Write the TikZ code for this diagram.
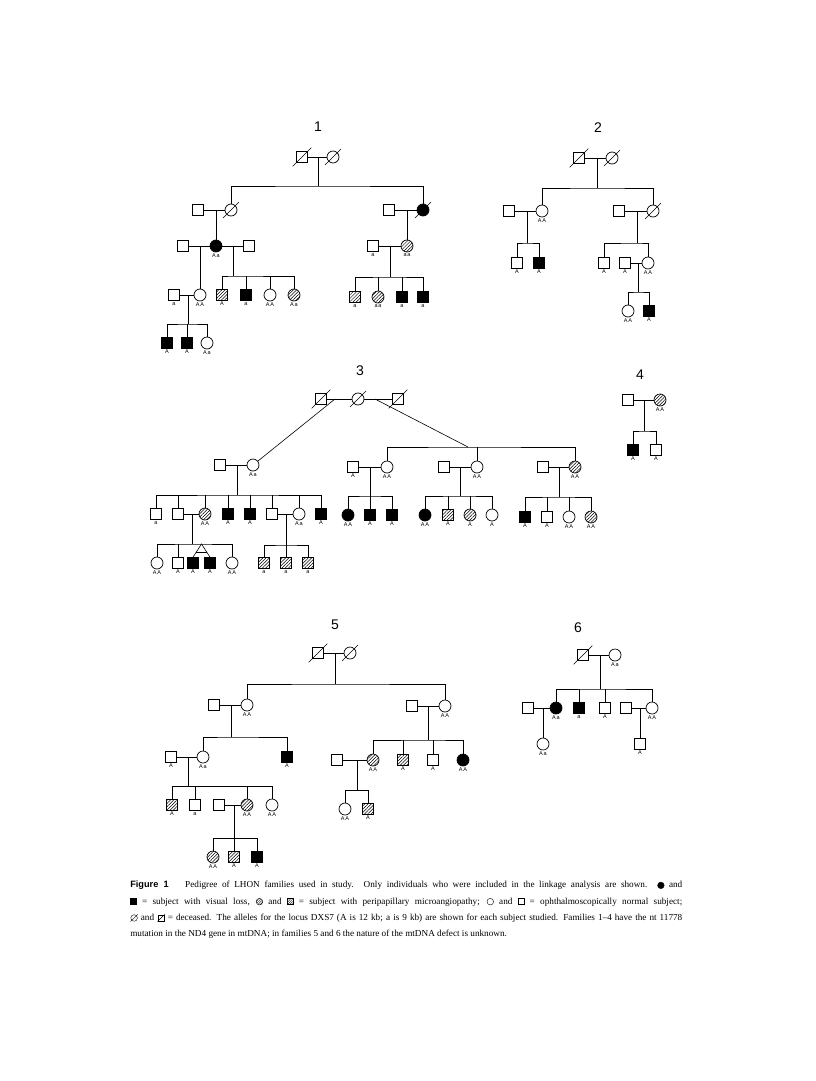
\documentclass[tikz,border=0pt]{standalone}
\usepackage{fontspec}
\setmainfont{Liberation Serif}
\setsansfont{Liberation Sans}
\newfontfamily\lblfont[LetterSpace=15]{Liberation Sans}
\usepackage{tikz}
\usetikzlibrary{patterns.meta,calc}

\tikzset{
  male/.style={draw, rectangle, minimum size=11pt, inner sep=0pt, line width=0.7pt, label distance=1.5pt},
  female/.style={draw, circle, minimum size=12pt, inner sep=0pt, line width=0.7pt, label distance=1.5pt},
  aff/.style={fill=black},
  hatch/.style={pattern={Lines[angle=45,distance=2.3pt,line width=0.5pt]}},
  lbl/.style={font=\lblfont\fontsize{5.5}{6}\selectfont, inner sep=1pt},
  famno/.style={font=\sffamily\fontsize{14}{14}\selectfont},
}
\newcommand{\dead}[1]{\draw[line width=0.6pt] ([shift={(-3.5pt,-3.5pt)}]#1.south west) -- ([shift={(3.5pt,3.5pt)}]#1.north east);}

% symbols for the caption
\newsavebox\boxfc \sbox\boxfc{\tikz[baseline=-2.6pt]\draw[fill=black] (0,0) circle (3.3pt);}
\newsavebox\boxfs \sbox\boxfs{\tikz[baseline=-2.6pt]\draw[fill=black] (-3pt,-3pt) rectangle (3pt,3pt);}
\newsavebox\boxhc \sbox\boxhc{\tikz[baseline=-2.6pt]\draw[pattern={Lines[angle=45,distance=1.6pt,line width=0.4pt]}] (0,0) circle (3.3pt);}
\newsavebox\boxhs \sbox\boxhs{\tikz[baseline=-2.6pt]\draw[pattern={Lines[angle=45,distance=1.6pt,line width=0.4pt]}] (-3pt,-3pt) rectangle (3pt,3pt);}
\newsavebox\boxoc \sbox\boxoc{\tikz[baseline=-2.6pt]\draw (0,0) circle (3.3pt);}
\newsavebox\boxos \sbox\boxos{\tikz[baseline=-2.6pt]\draw (-3pt,-3pt) rectangle (3pt,3pt);}
\newsavebox\boxdc \sbox\boxdc{\tikz[baseline=-2.6pt]{\draw (0,0) circle (3.3pt); \draw (-3.6pt,-3.6pt) -- (3.6pt,3.6pt);}}
\newsavebox\boxds \sbox\boxds{\tikz[baseline=-2.6pt]{\draw (-3pt,-3pt) rectangle (3pt,3pt); \draw (-3.6pt,-3.6pt) -- (3.6pt,3.6pt);}}

\begin{document}
\begin{tikzpicture}[x=1pt, y=-1pt, line width=0.6pt]
\useasboundingbox[fill=white] (0,0) rectangle (816,1081);

% Family 1
\node[famno] (t1) at (318,127) {1};
\node[male] (f1gf) at (302,157) {}; \dead{f1gf}
\node[female] (f1gm) at (333,157) {}; \dead{f1gm}
\draw (f1gf) -- (f1gm);
\coordinate (f1m) at (318,157);
\coordinate (f1s) at (318,186);
\draw (f1m) -- (f1s);
\node[female] (f1a) at (231,210) {}; \dead{f1a}
\node[female, aff] (f1b) at (423,210) {}; \dead{f1b}
\draw (f1a) |- (f1s) -| (f1b);
\node[male] (f1ah) at (198,210) {};
\node[male] (f1bh) at (389,210) {};
\draw (f1ah) -- (f1a);
\draw (f1bh) -- (f1b);
\node[female, aff, label={[lbl]below:Aa}] (f1c) at (216,246) {};
\node[female, hatch, label={[lbl]below:aa}] (f1d) at (407,246) {};
\coordinate (f1am) at (216,210); \draw (f1am) -- (f1c);
\coordinate (f1bm) at (407,210); \draw (f1bm) -- (f1d);
\node[male] (f1ch1) at (183,246) {};
\node[male] (f1ch2) at (249,246) {};
\draw (f1ch1) -- (f1c) -- (f1ch2);
\node[female, label={[lbl]below:AA}] (f1e) at (200,295) {};
\coordinate (f1cm1) at (200,246); \draw (f1cm1) -- (f1e);
\coordinate (f1cm2) at (233,246); \coordinate (f1cs2) at (233,276);
\draw (f1cm2) -- (f1cs2);
\node[male, hatch, label={[lbl]below:A}] (f1f) at (222,295) {};
\node[male, aff, label={[lbl]below:a}] (f1g) at (246,295) {};
\node[female, label={[lbl]below:AA}] (f1h) at (270,295) {};
\node[female, hatch, label={[lbl]below:Aa}] (f1i) at (294,295) {};
\draw (f1f) |- (f1cs2) -| (f1i);
\draw (f1g) -- (f1g |- f1cs2);
\draw (f1h) -- (f1h |- f1cs2);
\node[male, label={[lbl]below:a}] (f1eh) at (174,295) {};
\draw (f1eh) -- (f1e);
\coordinate (f1em) at (188,295); \coordinate (f1es) at (188,324);
\draw (f1em) -- (f1es);
\node[male, aff, label={[lbl]below:A}] (f1j) at (167,343) {};
\node[male, aff, label={[lbl]below:A}] (f1k) at (187,343) {};
\node[female, label={[lbl]below:Aa}] (f1l) at (207,343) {};
\draw (f1j) |- (f1es) -| (f1l);
\draw (f1k) -- (f1k |- f1es);
\node[male, label={[lbl]below:a}] (f1dh) at (373,246) {};
\draw (f1dh) -- (f1d);
\coordinate (f1dm) at (390,246); \coordinate (f1ds) at (390,277);
\draw (f1dm) -- (f1ds);
\node[male, hatch, label={[lbl]below:a}] (f1n1) at (355,297) {};
\node[female, hatch, label={[lbl]below:aa}] (f1n2) at (378,297) {};
\node[male, aff, label={[lbl]below:a}] (f1n3) at (402,297) {};
\node[male, aff, label={[lbl]below:a}] (f1n4) at (423,297) {};
\draw (f1n1) |- (f1ds) -| (f1n4);
\draw (f1n2) -- (f1n2 |- f1ds);
\draw (f1n3) -- (f1n3 |- f1ds);

% Family 2
\node[famno] (t2) at (598,128) {2};
\node[male] (f2gf) at (579,158) {}; \dead{f2gf}
\node[female] (f2gm) at (612,158) {}; \dead{f2gm}
\draw (f2gf) -- (f2gm);
\coordinate (f2m) at (597,158); \coordinate (f2s) at (597,188);
\draw (f2m) -- (f2s);
\node[female, label={[lbl]below:AA}] (f2a) at (542,211) {};
\node[female] (f2b) at (653,211) {}; \dead{f2b}
\draw (f2a) |- (f2s) -| (f2b);
\node[male] (f2ah) at (509,211) {};
\node[male] (f2bh) at (619,211) {};
\draw (f2ah) -- (f2a);
\draw (f2bh) -- (f2b);
\coordinate (f2am) at (527,211); \coordinate (f2as) at (527,243);
\draw (f2am) -- (f2as);
\node[male, label={[lbl]below:A}] (f2c1) at (517,263) {};
\node[male, aff, label={[lbl]below:A}] (f2c2) at (539,263) {};
\draw (f2c1) |- (f2as) -| (f2c2);
\coordinate (f2bm) at (637,211); \coordinate (f2bs) at (637,243);
\draw (f2bm) -- (f2bs);
\node[male, label={[lbl]below:A}] (f2d1) at (604,263) {};
\node[female, label={[lbl]below:AA}] (f2d2) at (648,263) {};
\draw (f2d1) |- (f2bs) -| (f2d2);
\node[male, label={[lbl]below:A}] (f2dh) at (625,263) {};
\draw (f2dh) -- (f2d2);
\coordinate (f2dm) at (638,263); \coordinate (f2ds) at (638,292);
\draw (f2dm) -- (f2ds);
\node[female, label={[lbl]below:AA}] (f2e1) at (628,311) {};
\node[male, aff, label={[lbl]below:A}] (f2e2) at (649,311) {};
\draw (f2e1) |- (f2ds) -| (f2e2);

% Family 3
\node[famno] (t3) at (360,371) {3};
\node[male] (f3a) at (321,399) {}; \dead{f3a}
\node[female] (f3b) at (358,399) {}; \dead{f3b}
\node[male] (f3c) at (398,399) {}; \dead{f3c}
\draw (f3a) -- (f3b) -- (f3c);
\coordinate (f3l) at (335,399); \coordinate (f3r) at (375,399);
\node[female, label={[lbl]below:Aa}] (f3d) at (253,465) {};
\node[male] (f3dh) at (220,465) {};
\draw (f3l) -- (f3d);
\draw (f3dh) -- (f3d);
\coordinate (f3dm) at (237,465); \coordinate (f3ds) at (237,495);
\draw (f3dm) -- (f3ds);
\node[male, label={[lbl]below:a}] (f3c1) at (156,514) {};
\node[male] (f3c2) at (178,514) {};
\node[female, hatch, label={[lbl]below:AA}] (f3c3) at (205,514) {};
\node[male, aff, label={[lbl]below:A}] (f3c4) at (228,514) {};
\node[male, aff, label={[lbl]below:A}] (f3c5) at (250,514) {};
\node[male] (f3c6) at (272,514) {};
\node[female, label={[lbl]below:Aa}] (f3c7) at (299,514) {};
\node[male, aff, label={[lbl]below:A}] (f3c8) at (321,514) {};
\draw (f3c1) |- (f3ds) -| (f3c8);
\foreach \k in {2,3,4,5,6,7} \draw (f3c\k) -- (f3c\k |- f3ds);
\draw (f3c2) -- (f3c3);
\draw (f3c6) -- (f3c7);
\coordinate (f3gm) at (192,514); \coordinate (f3gs) at (192,544);
\draw (f3gm) -- (f3gs);
\node[female, label={[lbl]below:AA}] (f3g1) at (157,563) {};
\node[male, label={[lbl]below:A}] (f3g2) at (178,563) {};
\node[male, aff, label={[lbl]below:A}] (f3g3) at (193,563) {};
\node[male, aff, label={[lbl]below:A}] (f3g4) at (210,563) {};
\node[female, label={[lbl]below:AA}] (f3g5) at (232,563) {};
\draw (f3g1) |- (f3gs) -| (f3g5);
\draw (f3g2) -- (f3g2 |- f3gs);
\coordinate (f3tw) at (201.5,544);
\draw (f3g3.north) -- (f3tw) -- (f3g4.north);
\draw ($(f3tw)!0.6!(f3g3.north)$) -- ($(f3tw)!0.6!(f3g4.north)$);
\coordinate (f3hm) at (286,514); \coordinate (f3hs) at (286,545);
\draw (f3hm) -- (f3hs);
\node[male, hatch, label={[lbl]below:a}] (f3h1) at (264,563) {};
\node[male, hatch, label={[lbl]below:a}] (f3h2) at (286,563) {};
\node[male, hatch, label={[lbl]below:a}] (f3h3) at (308,563) {};
\draw (f3h1) |- (f3hs) -| (f3h3);
\draw (f3h2) -- (f3hs);
\coordinate (f3s) at (468,447);
\draw (f3r) -- (f3s);
\node[female, label={[lbl]below:AA}] (f3e) at (387,467) {};
\node[female, label={[lbl]below:AA}] (f3f) at (477,467) {};
\node[female, hatch, label={[lbl]below:AA}] (f3g) at (575,467) {};
\draw (f3e) |- (f3s) -| (f3g);
\draw (f3f) -- (f3f |- f3s);
\node[male, label={[lbl]below:A}] (f3eh) at (353,467) {};
\node[male] (f3fh) at (444,467) {};
\node[male] (f3gh) at (543,467) {};
\draw (f3eh) -- (f3e);
\draw (f3fh) -- (f3f);
\draw (f3gh) -- (f3g);
\coordinate (f3em) at (370,467); \coordinate (f3es) at (370,496);
\draw (f3em) -- (f3es);
\node[female, aff, label={[lbl]below:AA}] (f3i1) at (348,515) {};
\node[male, aff, label={[lbl]below:A}] (f3i2) at (370,515) {};
\node[male, aff, label={[lbl]below:A}] (f3i3) at (392,515) {};
\draw (f3i1) |- (f3es) -| (f3i3);
\draw (f3i2) -- (f3es);
\coordinate (f3fm) at (460,467); \coordinate (f3fs) at (460,496);
\draw (f3fm) -- (f3fs);
\node[female, aff, label={[lbl]below:AA}] (f3j1) at (425,515) {};
\node[male, hatch, label={[lbl]below:A}] (f3j2) at (448,515) {};
\node[female, hatch, label={[lbl]below:A}] (f3j3) at (470,515) {};
\node[female, label={[lbl]below:A}] (f3j4) at (492,515) {};
\draw (f3j1) |- (f3fs) -| (f3j4);
\draw (f3j2) -- (f3j2 |- f3fs);
\draw (f3j3) -- (f3j3 |- f3fs);
\coordinate (f3km) at (559,467); \coordinate (f3ks) at (559,497);
\draw (f3km) -- (f3ks);
\node[male, aff, label={[lbl]below:A}] (f3k1) at (525,517) {};
\node[male, label={[lbl]below:A}] (f3k2) at (547,517) {};
\node[female, label={[lbl]below:AA}] (f3k3) at (569,517) {};
\node[female, hatch, label={[lbl]below:AA}] (f3k4) at (591,517) {};
\draw (f3k1) |- (f3ks) -| (f3k4);
\draw (f3k2) -- (f3k2 |- f3ks);
\draw (f3k3) -- (f3k3 |- f3ks);

% Family 4
\node[famno] (t4) at (640,375) {4};
\node[male] (f4f) at (628,400) {};
\node[female, hatch, label={[lbl]below:AA}] (f4m) at (660,400) {};
\draw (f4f) -- (f4m);
\coordinate (f4j) at (644,400); \coordinate (f4s) at (644,431);
\draw (f4j) -- (f4s);
\node[male, aff, label={[lbl]below:A}] (f4c1) at (633,450) {};
\node[male, label={[lbl]below:A}] (f4c2) at (656,450) {};
\draw (f4c1) |- (f4s) -| (f4c2);

% Family 5
\node[famno] (t5) at (335,625) {5};
\node[male] (f5gf) at (318,653) {}; \dead{f5gf}
\node[female] (f5gm) at (350,653) {}; \dead{f5gm}
\draw (f5gf) -- (f5gm);
\coordinate (f5m) at (335,653); \coordinate (f5s) at (335,684);
\draw (f5m) -- (f5s);
\node[female, label={[lbl]below:AA}] (f5a) at (247,705) {};
\node[female, label={[lbl]below:AA}] (f5b) at (445,706) {};
\draw (f5a) |- (f5s) -| (f5b);
\node[male] (f5ah) at (214,705) {};
\node[male] (f5bh) at (412,706) {};
\draw (f5ah) -- (f5a);
\draw (f5bh) -- (f5b);
\coordinate (f5am) at (231,705); \coordinate (f5as) at (231,737);
\draw (f5am) -- (f5as);
\node[female, label={[lbl]below:Aa}] (f5c) at (203,757) {};
\node[male, aff, label={[lbl]below:A}] (f5c2) at (287,757) {};
\draw (f5c) |- (f5as) -| (f5c2);
\node[male, label={[lbl]below:A}] (f5ch) at (171,757) {};
\draw (f5ch) -- (f5c);
\coordinate (f5cm) at (188,757); \coordinate (f5cs) at (188,786);
\draw (f5cm) -- (f5cs);
\node[male, hatch, label={[lbl]below:A}] (f5d1) at (172,805) {};
\node[male, label={[lbl]below:a}] (f5d2) at (195,805) {};
\node[female, hatch, label={[lbl]below:AA}] (f5d) at (247,805) {};
\node[female, label={[lbl]below:AA}] (f5d4) at (272,805) {};
\draw (f5d1) |- (f5cs) -| (f5d4);
\draw (f5d2) -- (f5d2 |- f5cs);
\draw (f5d) -- (f5d |- f5cs);
\node[male] (f5dh) at (219,805) {};
\draw (f5dh) -- (f5d);
\coordinate (f5dm) at (234,805); \coordinate (f5ds) at (234,838);
\draw (f5dm) -- (f5ds);
\node[female, hatch, label={[lbl]below:AA}] (f5e1) at (213,857) {};
\node[male, hatch, label={[lbl]below:A}] (f5e2) at (234,857) {};
\node[male, aff, label={[lbl]below:A}] (f5e3) at (257,857) {};
\draw (f5e1) |- (f5ds) -| (f5e3);
\draw (f5e2) -- (f5ds);
\coordinate (f5bm) at (428,706); \coordinate (f5bs) at (428,740);
\draw (f5bm) -- (f5bs);
\node[female, hatch, label={[lbl]below:AA}] (f5f) at (373,760) {};
\node[male, hatch, label={[lbl]below:A}] (f5f2) at (403,760) {};
\node[male, label={[lbl]below:A}] (f5f3) at (433,760) {};
\node[female, aff, label={[lbl]below:AA}] (f5f4) at (463,760) {};
\draw (f5f) |- (f5bs) -| (f5f4);
\draw (f5f2) -- (f5f2 |- f5bs);
\draw (f5f3) -- (f5f3 |- f5bs);
\node[male] (f5fh) at (337,760) {};
\draw (f5fh) -- (f5f);
\coordinate (f5fm) at (357,760); \coordinate (f5fs) at (357,790);
\draw (f5fm) -- (f5fs);
\node[female, label={[lbl]below:AA}] (f5g1) at (345,809) {};
\node[male, hatch, label={[lbl]below:A}] (f5g2) at (368,809) {};
\draw (f5g1) |- (f5fs) -| (f5g2);

% Family 6
\node[famno] (t6) at (578,628) {6};
\node[male] (f6gf) at (583,655) {}; \dead{f6gf}
\node[female, label={[lbl]below:Aa}] (f6gm) at (615,655) {};
\draw (f6gf) -- (f6gm);
\coordinate (f6m) at (600,655); \coordinate (f6s) at (600,689);
\draw (f6m) -- (f6s);
\node[female, aff, label={[lbl]below:Aa}] (f6a) at (556,708) {};
\node[male, aff, label={[lbl]below:a}] (f6c2) at (579,708) {};
\node[male, label={[lbl]below:A}] (f6c3) at (605,708) {};
\node[female, label={[lbl]below:AA}] (f6b) at (652,708) {};
\draw (f6a) |- (f6s) -| (f6b);
\draw (f6c2) -- (f6c2 |- f6s);
\draw (f6c3) -- (f6c3 |- f6s);
\node[male] (f6ah) at (528,708) {};
\node[male] (f6bh) at (626,708) {};
\draw (f6ah) -- (f6a);
\draw (f6bh) -- (f6b);
\coordinate (f6am) at (543,708); \coordinate (f6bm) at (640,708);
\node[female, label={[lbl]below:Aa}] (f6d) at (543,744) {};
\node[male, label={[lbl]below:A}] (f6e) at (640,744) {};
\draw (f6am) -- (f6d);
\draw (f6bm) -- (f6e);

% Caption
\node[anchor=north west, text width=552pt, align=justify, inner sep=0pt,
  font=\fontsize{9.2}{16.3}\selectfont] (cap) at (130,881)
  {{\sffamily\bfseries Figure 1}\hspace{1.8em}Pedigree of LHON families used in study. Only individuals who were included in the linkage analysis are shown. \usebox\boxfc{} and\linebreak
  \usebox\boxfs{} = subject with visual loss, \usebox\boxhc{} and \usebox\boxhs{} = subject with peripapillary microangiopathy; \usebox\boxoc{} and \usebox\boxos{} = ophthalmoscopically normal subject;\linebreak
  \usebox\boxdc{} and \usebox\boxds{} = deceased. The alleles for the locus DXS7 (A is 12 kb; a is 9 kb) are shown for each subject studied. Families 1--4 have the nt 11778\linebreak
  mutation in the ND4 gene in mtDNA; in families 5 and 6 the nature of the mtDNA defect is unknown.};
\end{tikzpicture}
\end{document}
